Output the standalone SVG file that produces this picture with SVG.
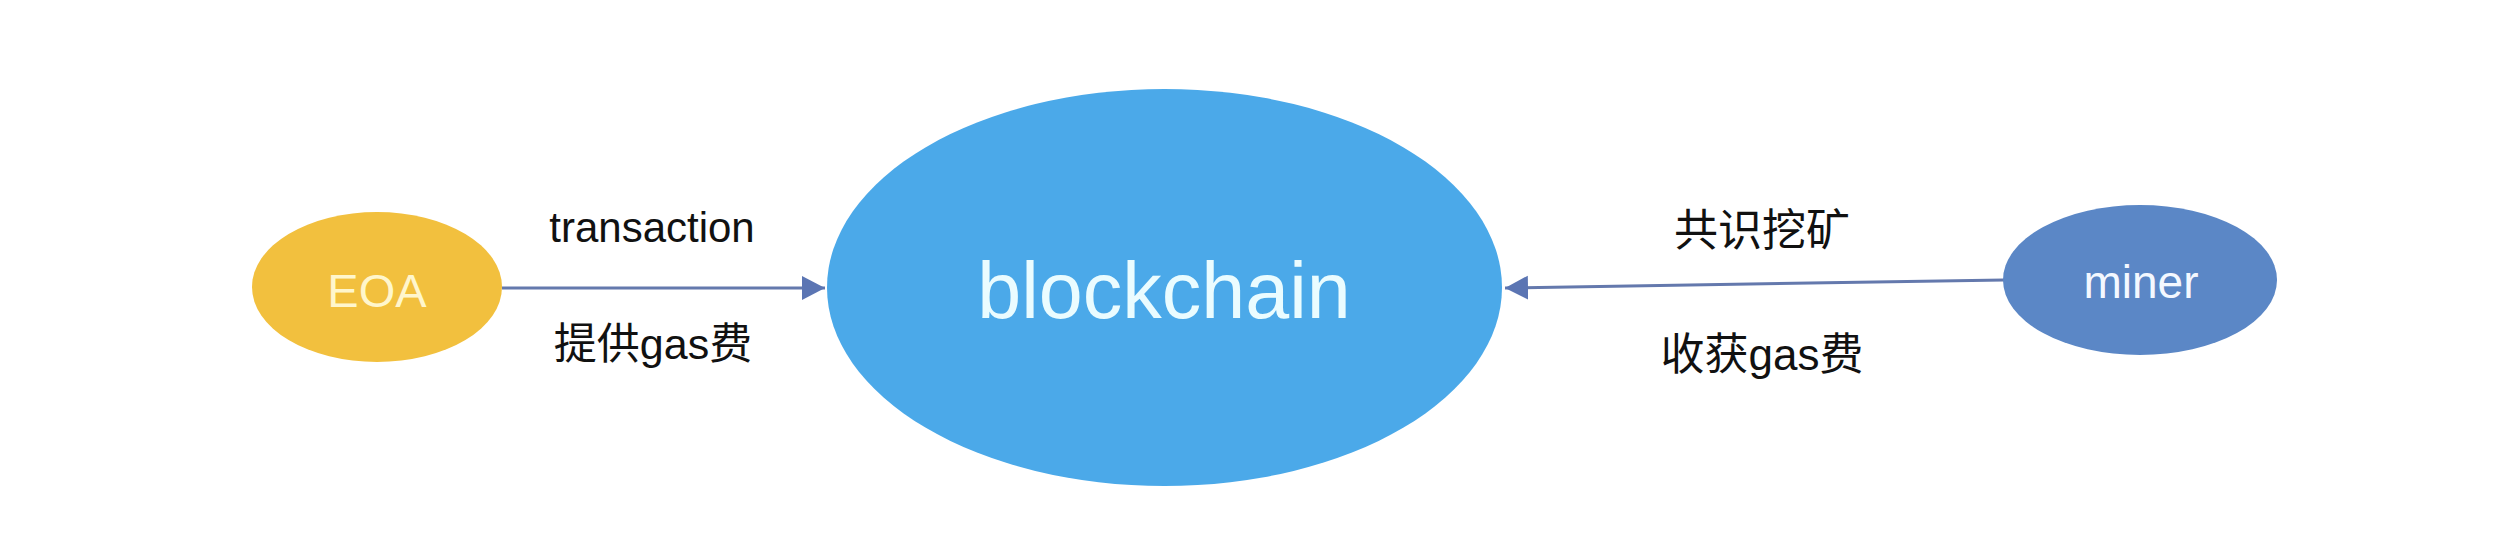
<svg xmlns="http://www.w3.org/2000/svg" width="2512" height="534" viewBox="0 0 2512 534">
  <defs>
    <style>
      .lbl { font-family: "Liberation Sans", "Noto Sans CJK SC", sans-serif; fill: #111111; text-anchor: middle; }
      .ntxt { font-family: "Liberation Sans", "Noto Sans CJK SC", sans-serif; text-anchor: middle; }
      .conn { stroke: #6479ad; stroke-width: 3; fill: none; }
    </style>
    <marker id="arrow" markerUnits="userSpaceOnUse" markerWidth="24" markerHeight="26" refX="23" refY="12" orient="auto">
      <path d="M0,0 L23,12 L0,24 Z" fill="#5b75b3"/>
    </marker>
  </defs>
  <rect width="2512" height="534" fill="#ffffff"/>

  <g id="connectors">
    <line class="conn" x1="502" y1="288" x2="825" y2="288" marker-end="url(#arrow)"/>
    <line class="conn" x1="2004" y1="280" x2="1505" y2="288" marker-end="url(#arrow)"/>
    <text class="lbl" x="652" y="242" font-size="42">transaction</text>
    <text class="lbl" x="653" y="359" font-size="43">提供gas费</text>
    <text class="lbl" x="1762" y="246" font-size="44">共识挖矿</text>
    <text class="lbl" x="1762" y="370" font-size="44">收获gas费</text>
  </g>

  <g id="node-eoa">
    <ellipse cx="377" cy="287" rx="125" ry="75" fill="#f2c03e"/>
    <text class="ntxt" x="377" y="307" font-size="47" fill="#fff6cc">EOA</text>
  </g>

  <g id="node-blockchain">
    <ellipse cx="1164.5" cy="287.5" rx="337.5" ry="198.5" fill="#4ba9e9"/>
    <text class="ntxt" x="1164" y="318" font-size="79" fill="#eafcff">blockchain</text>
  </g>

  <g id="node-miner">
    <ellipse cx="2140" cy="280" rx="137" ry="75" fill="#5b87c6"/>
    <text class="ntxt" x="2141" y="298" font-size="46" fill="#f4f8ff">miner</text>
  </g>
</svg>
